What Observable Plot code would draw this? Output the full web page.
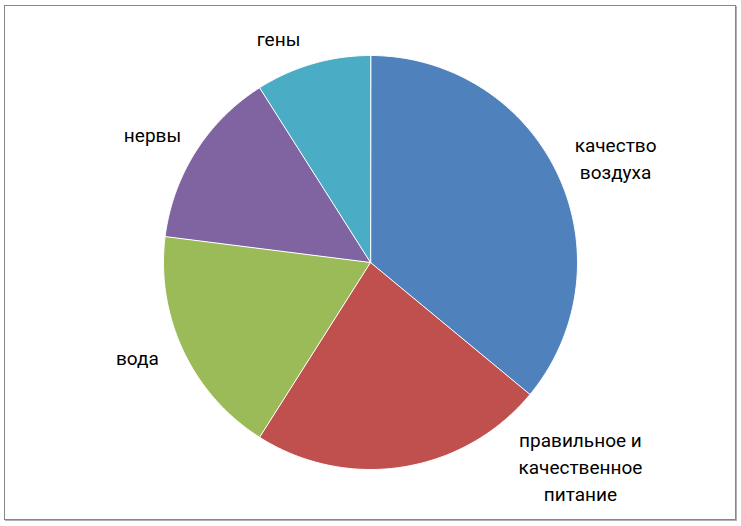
<!DOCTYPE html>
<html>
<head>
<meta charset="utf-8">
<script src="https://cdn.jsdelivr.net/npm/d3@7"></script>
<script src="https://cdn.jsdelivr.net/npm/@observablehq/plot@0.6"></script>
<style>
  html, body { margin: 0; padding: 0; background: #fff; }
  #wrap { position: relative; width: 741px; height: 526px; }
  #frame { position: absolute; left: 4px; top: 5px; width: 730px; height: 513px;
           border: 1px solid #878787; box-shadow: 1px 1px 0 #b0b0b0; pointer-events: none; }
</style>
</head>
<body>
<div id="wrap"><div id="frame"></div></div>
<script>
// Data
const categories = ["качество воздуха", "правильное и качественное питание", "вода", "нервы", "гены"];
const values = [36, 23, 18, 14, 9];
const colors = ["#4F81BD", "#C0504D", "#9BBB59", "#8064A2", "#4BACC6"];
// Label layout (unit-circle coordinates, radius = 1)
const labelText = ["качество\nвоздуха", "правильное и\nкачественное\nпитание", "вода", "нервы", "гены"];
const labelX = [1.184, 1.014, -1.126, -1.053, -0.444];
const labelY = [0.51, -0.978, -0.455, 0.624, 1.087];

const pie = d3.pie().sort(null).value(d => d)(values);
const pts = [];
pie.forEach((a, i) => {
  pts.push({cat: categories[i], x: 0, y: 0});
  const n = Math.max(2, Math.ceil((a.endAngle - a.startAngle) / 0.01));
  for (let k = 0; k <= n; k++) {
    const t = a.startAngle + (a.endAngle - a.startAngle) * k / n;
    pts.push({cat: categories[i], x: Math.sin(t), y: Math.cos(t)});
  }
});
const labels = categories.map((c, i) => ({cat: c, text: labelText[i], x: labelX[i], y: labelY[i]}));

const cx = 370, cy = 262, R = 207;
const chart = Plot.plot({
  width: 741, height: 526,
  margin: 0,
  style: {background: "transparent"},
  x: {domain: [-1, 1], range: [cx - R, cx + R], axis: null},
  y: {domain: [-1, 1], range: [cy + R, cy - R], axis: null},
  color: {domain: categories, range: colors},
  marks: [
    Plot.line(pts, {x: "x", y: "y", z: "cat", fill: "cat", stroke: "white", strokeWidth: 1, curve: "linear-closed"}),
    Plot.text(labels, {x: "x", y: "y", text: "text", fontSize: 19, lineHeight: 1.42, fill: "black",
      fontFamily: "Roboto, 'Liberation Sans Narrow', sans-serif"})
  ]
});
chart.style.position = "absolute";
chart.style.left = "0";
chart.style.top = "0";
document.getElementById("wrap").appendChild(chart);
</script>
</body>
</html>
